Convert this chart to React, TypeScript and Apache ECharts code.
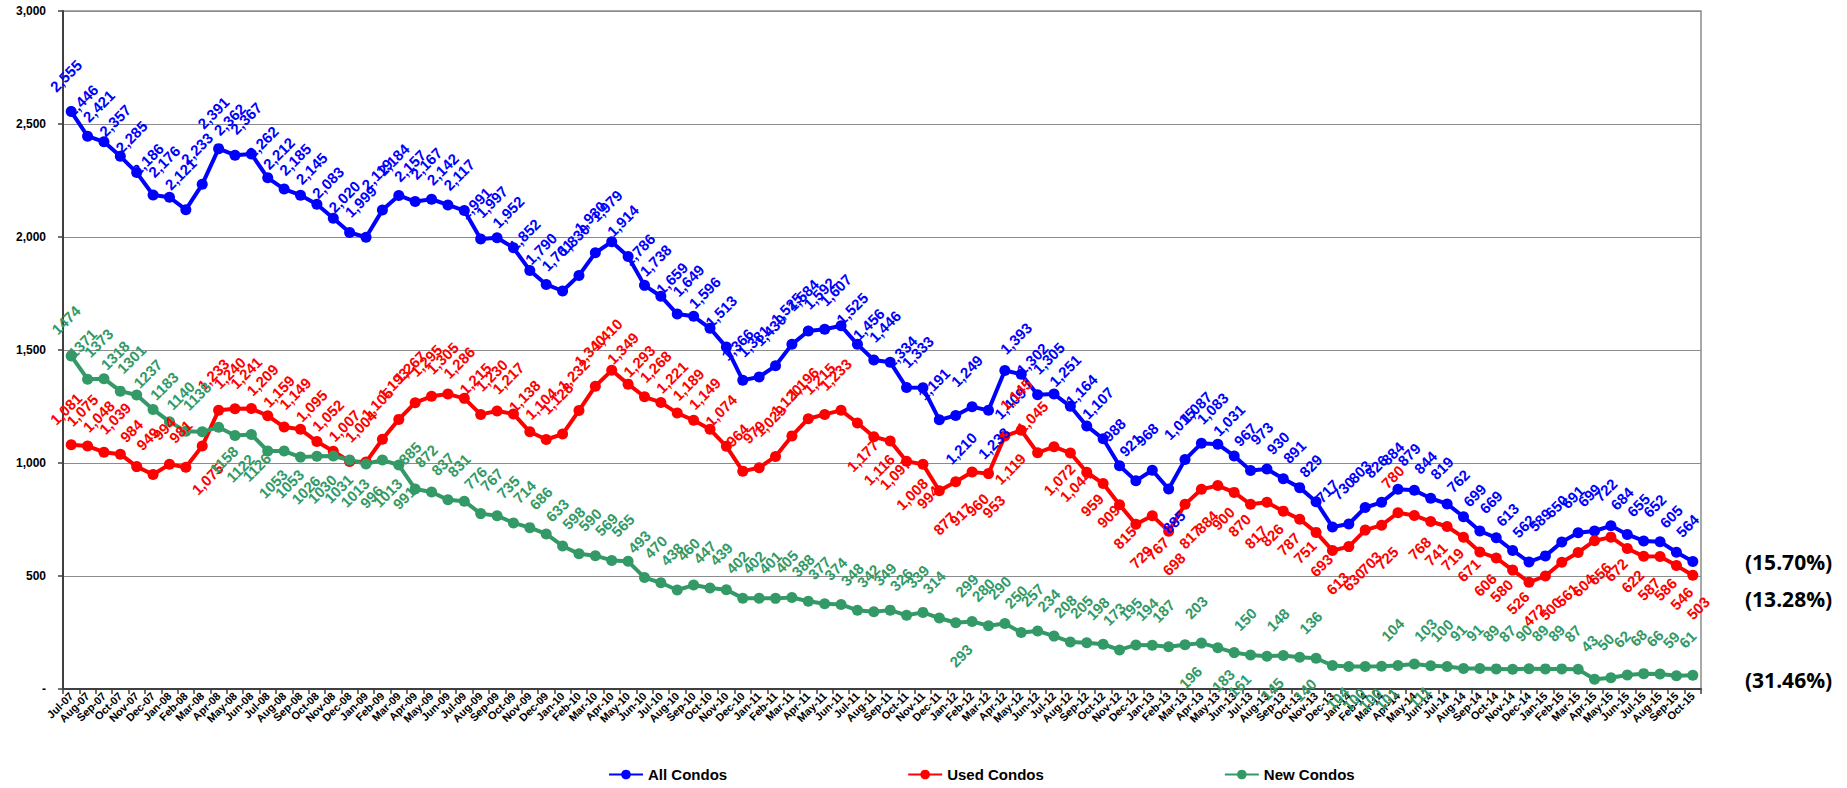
import React, { useEffect, useRef } from "react";
import * as echarts from "echarts";

// Monthly condo inventory, Jul-07 through Oct-15
const MONTHS = [
  "Jul-07", "Aug-07", "Sep-07", "Oct-07", "Nov-07", "Dec-07",
  "Jan-08", "Feb-08", "Mar-08", "Apr-08", "May-08", "Jun-08", "Jul-08", "Aug-08", "Sep-08", "Oct-08", "Nov-08", "Dec-08",
  "Jan-09", "Feb-09", "Mar-09", "Apr-09", "May-09", "Jun-09", "Jul-09", "Aug-09", "Sep-09", "Oct-09", "Nov-09", "Dec-09",
  "Jan-10", "Feb-10", "Mar-10", "Apr-10", "May-10", "Jun-10", "Jul-10", "Aug-10", "Sep-10", "Oct-10", "Nov-10", "Dec-10",
  "Jan-11", "Feb-11", "Mar-11", "Apr-11", "May-11", "Jun-11", "Jul-11", "Aug-11", "Sep-11", "Oct-11", "Nov-11", "Dec-11",
  "Jan-12", "Feb-12", "Mar-12", "Apr-12", "May-12", "Jun-12", "Jul-12", "Aug-12", "Sep-12", "Oct-12", "Nov-12", "Dec-12",
  "Jan-13", "Feb-13", "Mar-13", "Apr-13", "May-13", "Jun-13", "Jul-13", "Aug-13", "Sep-13", "Oct-13", "Nov-13", "Dec-13",
  "Jan-14", "Feb-14", "Mar-14", "Apr-14", "May-14", "Jun-14", "Jul-14", "Aug-14", "Sep-14", "Oct-14", "Nov-14", "Dec-14",
  "Jan-15", "Feb-15", "Mar-15", "Apr-15", "May-15", "Jun-15", "Jul-15", "Aug-15", "Sep-15", "Oct-15",
];

const ALL_CONDOS = [
  2555, 2446, 2421, 2357, 2285, 2186,
  2176, 2121, 2233, 2391, 2362, 2367, 2262, 2212, 2185, 2145, 2083, 2020,
  1999, 2119, 2184, 2157, 2167, 2142, 2117, 1991, 1997, 1952, 1852, 1790,
  1761, 1830, 1930, 1979, 1914, 1786, 1738, 1659, 1649, 1596, 1513, 1366,
  1381, 1430, 1525, 1584, 1592, 1607, 1525, 1456, 1446, 1334, 1333, 1191,
  1210, 1249, 1233, 1409, 1393, 1302, 1305, 1251, 1164, 1107, 988, 921,
  968, 885, 1015, 1087, 1083, 1031, 967, 973, 930, 891, 829, 717,
  730, 803, 826, 884, 879, 844, 819, 762, 699, 669, 613, 562,
  589, 650, 691, 699, 722, 684, 655, 652, 605, 564,
];

const USED_CONDOS = [
  1081, 1075, 1048, 1039, 984, 949,
  994, 981, 1075, 1233, 1240, 1241, 1209, 1159, 1149, 1095, 1052, 1007,
  1004, 1105, 1193, 1267, 1295, 1305, 1286, 1215, 1230, 1217, 1138, 1104,
  1128, 1232, 1340, 1410, 1349, 1293, 1268, 1221, 1189, 1149, 1074, 964,
  979, 1029, 1120, 1196, 1215, 1233, 1177, 1116, 1097, 1008, 994, 877,
  917, 960, 953, 1119, 1145, 1045, 1072, 1044, 959, 909, 815, 729,
  767, 698, 817, 884, 900, 870, 817, 826, 787, 751, 693, 613,
  630, 703, 725, 780, 768, 741, 719, 671, 606, 580, 526, 472,
  500, 561, 604, 656, 672, 622, 587, 586, 546, 503,
];

const NEW_CONDOS = [
  1474, 1371, 1373, 1318, 1301, 1237,
  1183, 1140, 1138, 1158, 1122, 1126, 1053, 1053, 1026, 1030, 1031, 1013,
  996, 1013, 991, 885, 872, 837, 831, 776, 767, 735, 714, 686,
  633, 598, 590, 569, 565, 493, 470, 438, 460, 447, 439, 402,
  402, 401, 405, 388, 377, 374, 348, 342, 349, 326, 339, 314,
  293, 299, 280, 290, 250, 257, 234, 208, 205, 198, 173, 195,
  194, 187, 196, 203, 183, 161, 150, 145, 148, 140, 136, 104,
  100, 100, 101, 104, 111, 103, 100, 91, 91, 89, 87, 90,
  89, 89, 87, 43, 50, 62, 68, 66, 59, 61,
];

const SERIES_NAMES = ["All Condos", "Used Condos", "New Condos"];
const CHANGE_LABELS = ["(15.70%)", "(13.28%)", "(31.46%)"];

// Index helpers for points whose value label sits under the marker
const span = (a: number, b: number) => Array.from({ length: b - a + 1 }, (_, k) => a + k);
const ALL_LABEL_BELOW = [54, 56, 57, 67];
const USED_LABEL_BELOW = [8, ...span(48, 57), ...span(60, 80), ...span(82, 99)];
const NEW_LABEL_BELOW = [...span(9, 20), 54, 68, 70, 71, 73, 75, 77, 78, 79, 80, 82];

const BLUE = "#0000ff";
const RED = "#ff0000";
const GREEN = "#339966";
const FONT = '"Liberation Sans", Arial, sans-serif';

const withComma = (v: number) => String(v).replace(/\B(?=(\d{3})+(?!\d))/g, ",");

function lineSeries(
  name: string,
  values: number[],
  color: string,
  below: number[],
  fmt: (v: number) => string
) {
  return {
    name,
    type: "line",
    data: values.map((v, i) =>
      below.includes(i) ? { value: v, label: { position: "bottom", distance: 22 } } : v
    ),
    symbol: "circle",
    symbolSize: 11,
    lineStyle: { width: 4, color },
    itemStyle: { color },
    label: {
      show: true,
      position: "top",
      distance: 25,
      rotate: 45,
      color,
      fontSize: 15,
      fontWeight: "bold",
      fontFamily: FONT,
      formatter: (p: any) => fmt(Number(p.value)),
    },
    emphasis: { disabled: true },
  };
}

export default function App() {
  const ref = useRef<HTMLDivElement>(null);

  useEffect(() => {
    if (!ref.current) return;
    const chart = echarts.init(ref.current, undefined, { renderer: "svg" });
    chart.setOption({
      animation: false,
      backgroundColor: "#ffffff",
      grid: {
        left: 63,
        right: 146,
        top: 11,
        bottom: 99,
        show: true,
        borderColor: "#8c8c8c",
        borderWidth: 1.5,
      },
      legend: {
        data: SERIES_NAMES,
        left: 603,
        top: 762,
        itemWidth: 34,
        itemHeight: 12,
        itemGap: 180,
        textStyle: { fontSize: 15, fontWeight: "bold", color: "#000", fontFamily: FONT },
      },
      xAxis: {
        type: "category",
        data: MONTHS,
        boundaryGap: true,
        axisLine: { lineStyle: { color: "#404040", width: 2 } },
        axisTick: { show: true, length: 5, lineStyle: { color: "#404040", width: 1.5 } },
        axisLabel: {
          interval: 0,
          rotate: 45,
          margin: 5,
          fontSize: 11,
          fontWeight: "bold",
          color: "#000",
          fontFamily: FONT,
        },
        splitLine: { show: false },
      },
      yAxis: {
        type: "value",
        min: 0,
        max: 3000,
        interval: 500,
        axisLine: { show: true, lineStyle: { color: "#404040", width: 2 } },
        axisTick: { show: true, length: 5, lineStyle: { color: "#404040", width: 1.5 } },
        axisLabel: {
          margin: 17,
          fontSize: 12,
          fontWeight: "bold",
          color: "#000",
          fontFamily: FONT,
          formatter: (v: number) => (v === 0 ? "-" : withComma(v)),
        },
        splitLine: { lineStyle: { color: "#8c8c8c", width: 1 } },
      },
      series: [
        lineSeries(SERIES_NAMES[0], ALL_CONDOS, BLUE, ALL_LABEL_BELOW, withComma),
        lineSeries(SERIES_NAMES[1], USED_CONDOS, RED, USED_LABEL_BELOW, withComma),
        lineSeries(SERIES_NAMES[2], NEW_CONDOS, GREEN, NEW_LABEL_BELOW, (v) => String(v)),
      ],
      graphic: [562, 599, 680].map((y, i) => ({
        type: "text",
        x: 1745,
        y,
        style: {
          text: CHANGE_LABELS[i],
          fill: "#000",
          font: 'bold 21px "Open Sans", "Noto Sans", sans-serif',
          verticalAlign: "middle",
        },
      })),
    });
    return () => chart.dispose();
  }, []);

  return (
    <div
      ref={ref}
      style={{ position: "absolute", left: 0, top: 0, width: 1847, height: 788, background: "#fff" }}
    />
  );
}
